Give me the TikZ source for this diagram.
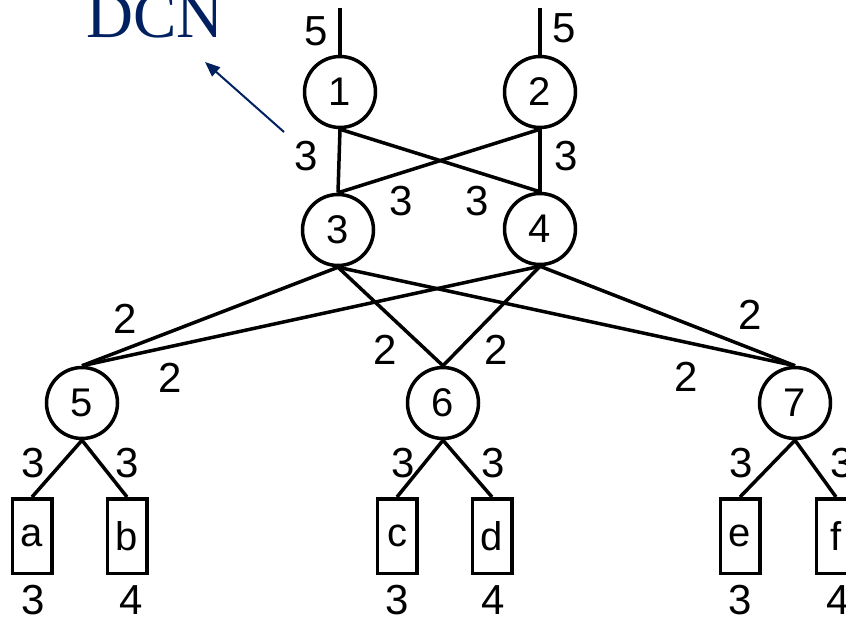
\documentclass[tikz,border=0pt]{standalone}
\usepackage{fontspec}
\setmainfont{Liberation Sans}
\newfontfamily\dcnfont{Liberation Serif}
\usetikzlibrary{arrows.meta}
\definecolor{navy}{RGB}{0,32,96}
\begin{document}
\begin{tikzpicture}[x=1pt,y=-1pt,
  sw/.style={circle,draw,line width=3.5pt,minimum size=71pt,inner sep=0pt,font=\fontsize{40}{44}\selectfont},
  host/.style={rectangle,draw,line width=3.5pt,minimum width=39.5pt,minimum height=74.5pt,inner sep=0pt,font=\fontsize{40}{44}\selectfont},
  link/.style={line width=3.5pt},
  lbl/.style={inner sep=0pt,font=\fontsize{42}{46}\selectfont},
  callout/.style={navy,line width=2pt,-{Triangle[length=15pt,width=12pt]}}]
\useasboundingbox (0,0) rectangle (846,624);
% switches
\node[sw] (n1) at (340,92) {1};
\node[sw] (n2) at (540,92) {2};
\node[sw] (n3) at (338,230) {3};
\node[sw] (n4) at (540,229) {4};
\node[sw] (n5) at (82,403) {5};
\node[sw] (n6) at (443,403) {6};
\node[sw] (n7) at (795,403) {7};
% hosts
\node[host] (ha) at (32,536) {a};
\node[host] (hb) at (127,536) {b};
\node[host] (hc) at (397,536) {c};
\node[host] (hd) at (492,536) {d};
\node[host] (he) at (740,536) {e};
\node[host] (hf) at (836,536) {f};
% uplinks
\coordinate (u1) at (340,8);
\coordinate (u2) at (540,8);
\draw[link] (n1.north) -- (u1);
\draw[link] (n2.north) -- (u2);
% core-agg
\draw[link] (n1.south) -- (n3.north);
\draw[link] (n1.south) -- (n4.north);
\draw[link] (n2.south) -- (n3.north);
\draw[link] (n2.south) -- (n4.north);
% agg-edge
\draw[link] (n3.south) -- (n5.north);
\draw[link] (n3.south) -- (n6.north);
\draw[link] (n3.south) -- (n7.north);
\draw[link] (n4.south) -- (n5.north);
\draw[link] (n4.south) -- (n6.north);
\draw[link] (n4.south) -- (n7.north);
% edge-host
\draw[link] (n5.south) -- (ha.north);
\draw[link] (n5.south) -- (hb.north);
\draw[link] (n6.south) -- (hc.north);
\draw[link] (n6.south) -- (hd.north);
\draw[link] (n7.south) -- (he.north);
\draw[link] (n7.south) -- (hf.north);
% labels
\node[lbl] (l1) at (316,31) {5};
\node[lbl] (l2) at (564,28) {5};
\node[lbl] (l3) at (306,156) {3};
\node[lbl] (l4) at (566,156) {3};
\node[lbl] (l5) at (401,201) {3};
\node[lbl] (l6) at (477,201) {3};
\node[lbl] (l7) at (125,319) {2};
\node[lbl] (l8) at (170,378) {2};
\node[lbl] (l9) at (385,350) {2};
\node[lbl] (l10) at (496,350) {2};
\node[lbl] (l11) at (686,377) {2};
\node[lbl] (l12) at (750,315) {2};
\node[lbl] (l13) at (33,463) {3};
\node[lbl] (l14) at (127,463) {3};
\node[lbl] (l15) at (403,463) {3};
\node[lbl] (l16) at (493,463) {3};
\node[lbl] (l17) at (741,463) {3};
\node[lbl] (l18) at (842,463) {3};
\node[lbl] (l19) at (33,600) {3};
\node[lbl] (l20) at (131,600) {4};
\node[lbl] (l21) at (397,600) {3};
\node[lbl] (l22) at (493,600) {4};
\node[lbl] (l23) at (740,600) {3};
\node[lbl] (l24) at (838,600) {4};
% callout
\node[navy,inner sep=0pt,anchor=base,font=\dcnfont\fontsize{65}{70}\selectfont] (dcn) at (155,37) {DCN};
\coordinate (ct) at (284,132);
\coordinate (ch) at (205,62);
\draw[callout] (ct) -- (ch);
\end{tikzpicture}
\end{document}
